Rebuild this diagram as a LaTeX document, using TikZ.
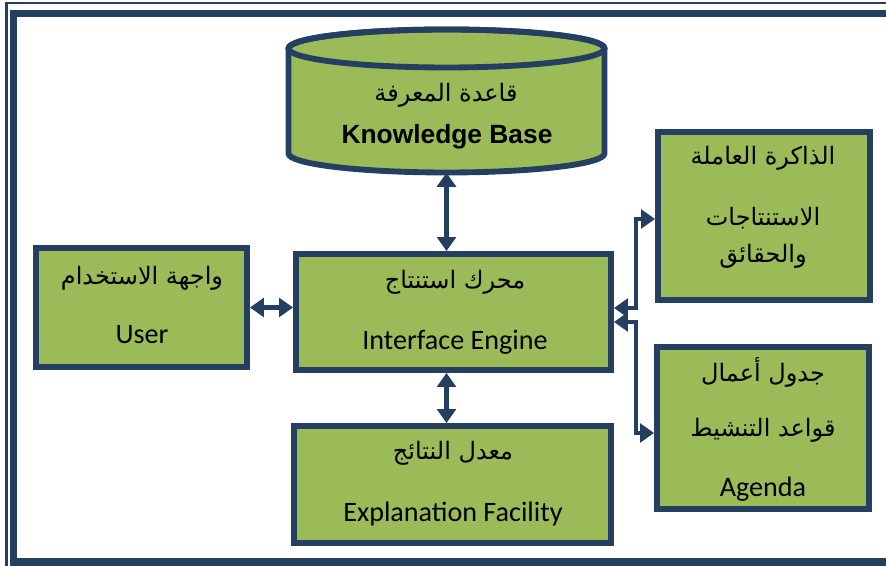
\documentclass[tikz,border=0pt]{standalone}
\usepackage{fontspec}
\setmainfont{Carlito}
\newfontfamily\arfont[Script=Arabic]{DejaVu Sans}
\newfontfamily\kbfont{Liberation Sans}
\TeXXeTstate=1
\usepackage{tikz}
\usetikzlibrary{arrows.meta,positioning}
\usepackage{xcolor}
\definecolor{navy}{HTML}{243F60}
\definecolor{leaf}{HTML}{9BBB59}

\begin{document}
\begin{tikzpicture} [
        x = 0.03cm, y = 0.03cm,
        box/.style = { draw = navy, fill = leaf, line width = 5pt, inner sep = 0 },
        link/.style = { draw = navy, line width = 4pt,
            {Triangle[length = 12pt, width = 16pt]}-{Triangle[length = 12pt, width = 16pt]} },
        ar/.style = { font = \arfont\fontsize{20.5}{24}\selectfont, anchor = base, inner sep = 0 },
        en/.style = { font = \fontsize{24}{29}\selectfont, anchor = base, inner sep = 0 }
        ]
        \useasboundingbox (0,0) rectangle (886,566);

        % page border
        \draw [navy, line width = 2pt] (6.5,-20) -- (6.5,563) -- (900,563);
        \draw [navy, line width = 6pt] (13.5,4) rectangle (900,552.5);

        % knowledge base cylinder
        \node [inner sep = 0, minimum width = 9.48cm, minimum height = 4.29cm] (kb) at (446.5,465) {};
        \path [fill = leaf, draw = navy, line width = 5pt] (288.5,517.5) -- (288.5,412.5)
            arc [start angle = 180, end angle = 360, x radius = 158, y radius = 19]
            -- (604.5,517.5)
            arc [start angle = 0, end angle = 180, x radius = 158, y radius = 19] -- cycle;
        \draw [navy, line width = 5pt] (446.5,517.5) ellipse [x radius = 158, y radius = 19];
        \node [ar] (kb-ar) at (446,464) {\beginR قاعدة المعرفة\endR};
        \node [en, font = \kbfont\bfseries\fontsize{22.5}{26}\selectfont] (kb-en) at (447,422) {Knowledge Base};

        % boxes
        \node [box, minimum width = 6.33cm, minimum height = 3.57cm] (user) at (141.5,258.5) {};
        \node [box, minimum width = 9.45cm, minimum height = 3.48cm] (ie) at (453.5,254) {};
        \node [box, minimum width = 9.51cm, minimum height = 3.51cm] (expl) at (452.5,81.5) {};
        \node [box, minimum width = 6.36cm, minimum height = 5.04cm] (wm) at (764,350) {};
        \node [box, minimum width = 6.36cm, minimum height = 4.86cm] (agenda) at (763,138) {};

        % texts
        \node [ar] (user-ar) at (142,281) {\beginR واجهة الاستخدام\endR};
        \node [en] (user-en) at (142,222) {User};
        \node [ar] (ie-ar) at (455,277) {\beginR محرك استنتاج\endR};
        \node [en] (ie-en) at (455,216) {Interface Engine};
        \node [ar] (expl-ar) at (453,106) {\beginR معدل النتائج\endR};
        \node [en] (expl-en) at (453,44) {Explanation Facility};
        \node [ar] (wm-ar1) at (763,401) {\beginR الذاكرة العاملة\endR};
        \node [ar] (wm-ar2) at (763,340) {\beginR الاستنتاجات\endR};
        \node [ar] (wm-ar3) at (763,303) {\beginR والحقائق\endR};
        \node [ar] (agenda-ar1) at (763,184) {\beginR جدول أعمال\endR};
        \node [ar] (agenda-ar2) at (763,129) {\beginR قواعد التنشيط\endR};
        \node [en] (agenda-en) at (763,69) {Agenda};

        % connectors
        \draw [link] (kb.south) -- (kb.south |- ie.north);
        \draw [link] (ie.south -| kb.south) -- (kb.south |- expl.north);
        \draw [link] (user.east) -- (user.east -| ie.west);
        \draw [link] ([yshift = 0.12cm]ie.east) -- ++(22,0) |- ([yshift = -0.09cm]wm.west);
        \draw [link] ([yshift = -0.3cm]ie.east) -- ++(22,0) |- ([yshift = -0.15cm]agenda.west);
\end{tikzpicture}
\end{document}
